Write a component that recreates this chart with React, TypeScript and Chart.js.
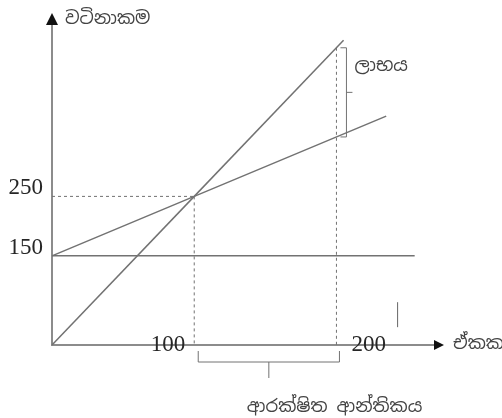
import { useEffect, useRef } from "react";
import { Chart, Plugin, registerables } from "chart.js";

Chart.register(...registerables);

// break-even diagram: units (x) against value (y)
const salesUnits = [0, 100, 205];
const salesValues = [0, 250, 512.5];
const totalCostUnits = [0, 100, 235];
const totalCostValues = [150, 250, 385];
const fixedCostUnits = [0, 255];
const fixedCostValues = [150, 150];

const breakEvenUnits = 100;
const breakEvenValue = 250;
const plannedUnits = 200;
const plannedSales = 500;
const plannedCost = 350;

const xTickValues = [100, 200];
const yTickValues = [150, 250];
const cursorUnits = [243, 243];
const cursorValues = [30, 72];

const yTitle = "වටිනාකම";
const xTitle = "ඒකක";
const profitLabel = "ලාභය";
const marginLabel = "ආරක්ෂිත ආන්තිකය";

const LINE = "#727272";
const AXIS = "#8c8c8c";
const SINHALA = "'Noto Sans Sinhala', 'Noto Serif Sinhala', 'Iskoola Pota', 'LKLUG', 'Lohit Sinhala', sans-serif";
const NUMFONT = "'Liberation Serif', 'DejaVu Serif', serif";

const toXY = (xs: number[], ys: number[]) => xs.map((x, i) => ({ x, y: ys[i] }));

const decorations: Plugin<"line"> = {
  id: "decorations",
  afterDraw(chart) {
    const { ctx, chartArea } = chart;
    const xs = chart.scales.x;
    const ys = chart.scales.y;
    const left = xs.getPixelForValue(0);
    const bottom = ys.getPixelForValue(0);
    const top = chartArea.top;
    const right = chartArea.right;

    ctx.save();
    // arrow heads
    ctx.fillStyle = "#111";
    ctx.beginPath();
    ctx.moveTo(left, top - 11);
    ctx.lineTo(left - 6, top + 1);
    ctx.lineTo(left + 6, top + 1);
    ctx.closePath();
    ctx.fill();
    ctx.beginPath();
    ctx.moveTo(right + 8, bottom);
    ctx.lineTo(right - 2, bottom - 5);
    ctx.lineTo(right - 2, bottom + 5);
    ctx.closePath();
    ctx.fill();

    // axis titles
    ctx.fillStyle = "#444";
    ctx.font = `18px ${SINHALA}`;
    ctx.textBaseline = "middle";
    ctx.textAlign = "left";
    ctx.fillText(yTitle, left + 13, top - 5);
    ctx.fillText(xTitle, right + 17, bottom - 1);

    // tick labels
    ctx.fillStyle = "#262626";
    ctx.font = `23px ${NUMFONT}`;
    ctx.textAlign = "right";
    yTickValues.forEach((v) => {
      ctx.fillText(String(v), left - 9, ys.getPixelForValue(v) - 8);
    });
    xTickValues.forEach((v, i) => {
      const px = xs.getPixelForValue(v);
      if (i === 0) {
        ctx.textAlign = "right";
        ctx.fillText(String(v), px - 9, bottom);
      } else {
        ctx.textAlign = "left";
        ctx.fillText(String(v), px + 15, bottom);
      }
    });

    // profit bracket
    ctx.strokeStyle = LINE;
    ctx.lineWidth = 1;
    const bx = xs.getPixelForValue(plannedUnits) + 10;
    const yTop = ys.getPixelForValue(plannedSales);
    const yBot = ys.getPixelForValue(plannedCost);
    const yMid = (yTop + yBot) / 2;
    ctx.beginPath();
    ctx.moveTo(bx - 6, yTop);
    ctx.lineTo(bx, yTop);
    ctx.lineTo(bx, yBot);
    ctx.lineTo(bx - 6, yBot);
    ctx.moveTo(bx, yMid);
    ctx.lineTo(bx + 6, yMid);
    ctx.stroke();
    ctx.fillStyle = "#444";
    ctx.font = `18px ${SINHALA}`;
    ctx.textAlign = "left";
    ctx.fillText(profitLabel, bx + 8, yTop + (yBot - yTop) * 0.2);

    // margin of safety bracket
    const xa = xs.getPixelForValue(breakEvenUnits) + 4;
    const xb = xs.getPixelForValue(plannedUnits) + 3;
    const xc = (xa + xb) / 2;
    ctx.beginPath();
    ctx.moveTo(xa, bottom + 6);
    ctx.lineTo(xa, bottom + 17);
    ctx.lineTo(xb, bottom + 17);
    ctx.lineTo(xb, bottom + 6);
    ctx.moveTo(xc, bottom + 17);
    ctx.lineTo(xc, bottom + 33);
    ctx.stroke();
    ctx.fillText(marginLabel, xc - 22, bottom + 62);
    ctx.restore();
  },
};

export default function App() {
  const canvasRef = useRef<HTMLCanvasElement>(null);
  const chartRef = useRef<Chart<"line"> | null>(null);

  useEffect(() => {
    if (!canvasRef.current) return;
    if (chartRef.current) chartRef.current.destroy();

    const solid = { borderColor: LINE, borderWidth: 1.5, pointRadius: 0, clip: false as const };
    const dashed = { borderColor: LINE, borderWidth: 1, borderDash: [3, 3], pointRadius: 0, clip: false as const };

    chartRef.current = new Chart(canvasRef.current, {
      type: "line",
      data: {
        datasets: [
          { label: "sales", data: toXY(salesUnits, salesValues), ...solid },
          { label: "total cost", data: toXY(totalCostUnits, totalCostValues), ...solid },
          { label: "fixed cost", data: toXY(fixedCostUnits, fixedCostValues), ...solid },
          {
            label: "break-even value",
            data: toXY([0, breakEvenUnits], [breakEvenValue, breakEvenValue]),
            ...dashed,
          },
          {
            label: "break-even units",
            data: toXY([breakEvenUnits, breakEvenUnits], [breakEvenValue, 0]),
            ...dashed,
          },
          {
            label: "planned units",
            data: toXY([plannedUnits, plannedUnits], [plannedSales, 0]),
            ...dashed,
          },
          {
            label: "mark",
            data: toXY(cursorUnits, cursorValues),
            borderColor: "#666",
            borderWidth: 1,
            pointRadius: 0,
          },
        ],
      },
      options: {
        animation: false,
        responsive: true,
        maintainAspectRatio: false,
        layout: { padding: { left: 52, top: 24, right: 66, bottom: 73 } },
        plugins: { legend: { display: false }, tooltip: { enabled: false } },
        scales: {
          x: {
            type: "linear",
            min: 0,
            max: 270,
            grid: { display: false, drawTicks: false },
            ticks: { display: false },
            border: { display: true, color: AXIS, width: 2 },
          },
          y: {
            type: "linear",
            min: 0,
            max: 540,
            grid: { display: false, drawTicks: false },
            ticks: { display: false },
            border: { display: true, color: AXIS, width: 2 },
          },
        },
      },
      plugins: [decorations],
    });

    return () => {
      if (chartRef.current) {
        chartRef.current.destroy();
        chartRef.current = null;
      }
    };
  }, []);

  return (
    <div style={{ position: "fixed", left: 0, top: 0, width: 502, height: 418, background: "#fff" }}>
      <canvas ref={canvasRef}></canvas>
    </div>
  );
}
